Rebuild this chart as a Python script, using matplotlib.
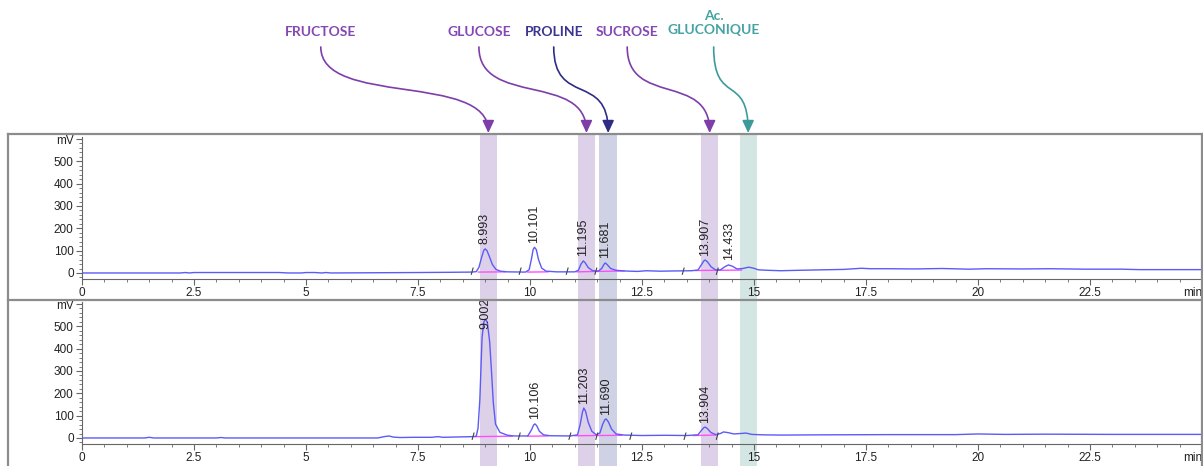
import matplotlib
matplotlib.use('Agg')
import matplotlib.pyplot as plt
from matplotlib.path import Path
from matplotlib.patches import FancyArrowPatch, Rectangle
from matplotlib.lines import Line2D
from matplotlib.transforms import blended_transform_factory
from matplotlib.ticker import MultipleLocator

# --- chromatogram 1 (top), time in min, signal in mV ---
t_top = [0, 2.2, 2.3, 2.4, 2.5, 4.4, 4.6, 4.9, 5.0, 5.2, 5.35, 5.45, 5.55, 7.5, 8.2,
         8.7, 8.8, 8.86, 8.92, 8.97, 9.0, 9.04, 9.1, 9.16, 9.24, 9.34, 9.5,
         9.9, 9.98, 10.03, 10.07, 10.1, 10.14, 10.19, 10.26, 10.36, 10.6,
         11.0, 11.08, 11.14, 11.19, 11.23, 11.3, 11.4,
         11.52, 11.6, 11.65, 11.68, 11.72, 11.8, 11.92,
         12.1, 12.4, 12.6, 12.9, 13.2, 13.6,
         13.75, 13.83, 13.88, 13.91, 13.96, 14.04, 14.14,
         14.25, 14.35, 14.43, 14.52, 14.62, 14.75, 14.88, 14.98, 15.1,
         15.3, 15.6, 16.0, 16.5, 17.0, 17.4, 17.6, 18.0, 18.6, 19.2, 19.8,
         20.2, 21.0, 21.6, 22.4, 23.2, 23.6, 24.2, 25.0]
mv_top = [0, 0, 2, 0, 2, 2, 0, 0, 2, 2, 0, 2, 0, 2, 3,
          4, 6, 25, 70, 102, 108, 100, 70, 38, 16, 8, 5,
          4, 14, 60, 105, 115, 105, 60, 22, 8, 5,
          5, 12, 40, 54, 46, 24, 10,
          8, 20, 38, 45, 38, 20, 12,
          9, 7, 10, 8, 9, 10,
          13, 38, 54, 58, 50, 28, 14,
          14, 28, 36, 30, 18, 20, 26, 22, 14,
          12, 10, 12, 14, 16, 21, 19, 19, 18, 20, 17,
          19, 18, 19, 17, 17, 15, 15, 15]

# --- chromatogram 2 (bottom) ---
t_bot = [0, 1.4, 1.5, 1.6, 3.0, 3.1, 3.2, 6.6, 6.75, 6.85, 6.95, 7.1, 7.4, 7.8, 7.95, 8.05, 8.5,
         8.74, 8.8, 8.84, 8.88, 8.93, 8.97, 9.01, 9.05, 9.1, 9.14, 9.18, 9.23, 9.33, 9.5, 9.65,
         9.95, 10.03, 10.08, 10.11, 10.15, 10.21, 10.3, 10.45,
         10.9, 11.06, 11.12, 11.17, 11.2, 11.24, 11.3, 11.38, 11.48,
         11.56, 11.62, 11.67, 11.7, 11.75, 11.82, 11.92,
         12.1, 12.5, 13.0, 13.5,
         13.75, 13.83, 13.88, 13.91, 13.96, 14.04, 14.15,
         14.25, 14.32, 14.42, 14.55, 14.7, 14.82, 14.95,
         15.2, 15.6, 16.5, 18.0, 19.5, 20.0, 20.6, 21.5, 23.0, 25.0]
mv_bot = [0, 0, 3, 0, 0, 2, 0, 0, 6, 9, 4, 2, 3, 3, 6, 3, 5,
          6, 8, 44, 170, 450, 520, 532, 515, 430, 300, 160, 62, 25, 12, 9,
          9, 35, 58, 63, 55, 30, 14, 10,
          9, 14, 60, 115, 134, 120, 70, 30, 14,
          22, 60, 82, 85, 72, 40, 18,
          13, 11, 12, 11,
          14, 35, 46, 49, 42, 24, 15,
          20, 27, 24, 18, 20, 22, 16,
          14, 13, 14, 15, 15, 18, 16, 17, 16, 16]

# labelled peaks (retention time, apex mV)
peaks_top = [8.993, 10.101, 11.195, 11.681, 13.907, 14.433]
peaks_top_h = [108, 115, 54, 45, 58, 36]
peaks_bot = [9.002, 10.106, 11.203, 11.690, 13.904]
peaks_bot_h = [470, 63, 134, 85, 49]

# integration baselines (start, end, mV start, mV end)
base_top = [(8.85, 9.45, 4, 5), (9.95, 10.4, 4, 5), (11.05, 11.5, 5, 7),
            (11.5, 12.1, 7, 9), (13.7, 14.2, 11, 12), (14.2, 14.72, 12, 13)]
base_bot = [(8.78, 9.6, 6, 8), (9.95, 10.4, 8, 9), (11.0, 11.48, 10, 11),
            (11.48, 12.05, 11, 12), (13.65, 14.15, 11, 13)]
marks_top = [8.71, 9.78, 10.83, 11.47, 13.42, 14.18]
marks_bot = [8.73, 9.76, 10.89, 11.49, 12.25, 13.46, 14.18]

# compound bands and annotations
compounds = ['FRUCTOSE', 'GLUCOSE', 'PROLINE', 'SUCROSE', 'Ac.\nGLUCONIQUE']
band_lo = [8.88, 11.07, 11.55, 13.82, 14.68]
band_hi = [9.26, 11.45, 11.94, 14.20, 15.06]
label_x = [5.33, 8.86, 10.53, 12.17, 14.10]
band_colors = ['#ddd1e9', '#ddd1e9', '#cfd1e4', '#ddd1e9', '#d3e6e4']
text_colors = ['#8447b4', '#8447b4', '#3b3592', '#8447b4', '#45a3a3']
arrow_colors = ['#7d3eaa', '#7d3eaa', '#2f2c86', '#7d3eaa', '#3e9a9a']

W, H = 1203, 466
plt.rcParams['font.family'] = ['Liberation Sans', 'DejaVu Sans']

fig = plt.figure(figsize=(W / 100, H / 100), dpi=100)


def fy(p):
    return 1 - p / H


ax_top = fig.add_axes([82 / W, fy(279), 1120 / W, 142 / H])
ax_bot = fig.add_axes([82 / W, fy(444), 1120 / W, 142 / H])

xt = [0, 2.5, 5, 7.5, 10, 12.5, 15, 17.5, 20, 22.5, 25]
xl = ['0', '2.5', '5', '7.5', '10', '12.5', '15', '17.5', '20', '22.5', 'min']
yt = [0, 100, 200, 300, 400, 500, 600]
yl = ['0', '100', '200', '300', '400', '500', 'mV']

for ax, t, mv, pk, pkh, base, marks in [
        (ax_top, t_top, mv_top, peaks_top, peaks_top_h, base_top, marks_top),
        (ax_bot, t_bot, mv_bot, peaks_bot, peaks_bot_h, base_bot, marks_bot)]:
    ax.set_facecolor('none')
    ax.plot(t, mv, color='#5b5bf6', lw=1.0, zorder=3)
    for x0, x1, y0, y1 in base:
        ax.plot([x0, x1], [y0, y1], color='#ff4cff', lw=1.0, zorder=2)
    for m in marks:
        ax.plot([m - 0.02, m + 0.02], [-6, 22], color='#444', lw=0.8, zorder=4)
    for x, h in zip(pk, pkh):
        y = 490 if h > 400 else h + 20
        ax.text(x, y, f'{x:.3f}', rotation=90, ha='center', va='bottom',
                fontsize=9, color='#222', zorder=5)
    ax.set_xlim(0, 25)
    ax.set_ylim(-27, 609)
    for s in ['top', 'right']:
        ax.spines[s].set_visible(False)
    for s in ['left', 'bottom']:
        ax.spines[s].set_color('#666')
        ax.spines[s].set_linewidth(0.8)
    ax.set_xticks(xt)
    ax.set_xticklabels(xl)
    ax.set_yticks(yt)
    ax.set_yticklabels(yl)
    ax.xaxis.set_minor_locator(MultipleLocator(0.5))
    ax.yaxis.set_minor_locator(MultipleLocator(20))
    ax.tick_params(which='major', length=4, width=0.8, color='#666',
                   labelcolor='#222', labelsize=8.5, pad=2)
    ax.tick_params(which='minor', length=2.5, width=0.6, color='#666')
    # the unit label at the end of the time axis sits inside the figure
    ax.get_xticklabels()[-1].set_horizontalalignment('right')

# shaded bands across both panels
trans = blended_transform_factory(ax_top.transData, fig.transFigure)
for lo, hi, c in zip(band_lo, band_hi, band_colors):
    fig.add_artist(Rectangle((lo, 0), hi - lo, fy(134), transform=trans,
                             facecolor=c, edgecolor='none', zorder=-1))

# panel frame
frame_kw = dict(color='#8c8c8c', lw=1.6, transform=fig.transFigure)
fig.add_artist(Line2D([8 / W, 1], [fy(134), fy(134)], **frame_kw))
fig.add_artist(Line2D([8 / W, 1], [fy(300), fy(300)], **frame_kw))
fig.add_artist(Line2D([8 / W, 8 / W], [0, fy(134)], **frame_kw))
fig.add_artist(Line2D([1201.5 / W, 1201.5 / W], [0, fy(134)], **frame_kw))

# curved arrows and compound names
for name, lx, lo, hi, tc, ac in zip(compounds, label_x, band_lo, band_hi,
                                    text_colors, arrow_colors):
    tip = (lo + hi) / 2
    verts = [(lx, fy(47)), (lx, fy(107)), (tip, fy(72)), (tip, fy(133))]
    codes = [Path.MOVETO, Path.CURVE4, Path.CURVE4, Path.CURVE4]
    arr = FancyArrowPatch(path=Path(verts, codes), transform=trans,
                          arrowstyle='-|>,head_length=0.75,head_width=0.35',
                          mutation_scale=10, color=ac, lw=1.2)
    fig.add_artist(arr)
    yy = fy(32) if '\n' not in name else fy(23)
    fig.text(lx, yy, name, transform=trans, ha='center', va='center',
             fontsize=10, fontweight='bold', color=tc,
             family=['Lato', 'DejaVu Sans'], linespacing=1.25)

fig.savefig('out.png', dpi=100)
